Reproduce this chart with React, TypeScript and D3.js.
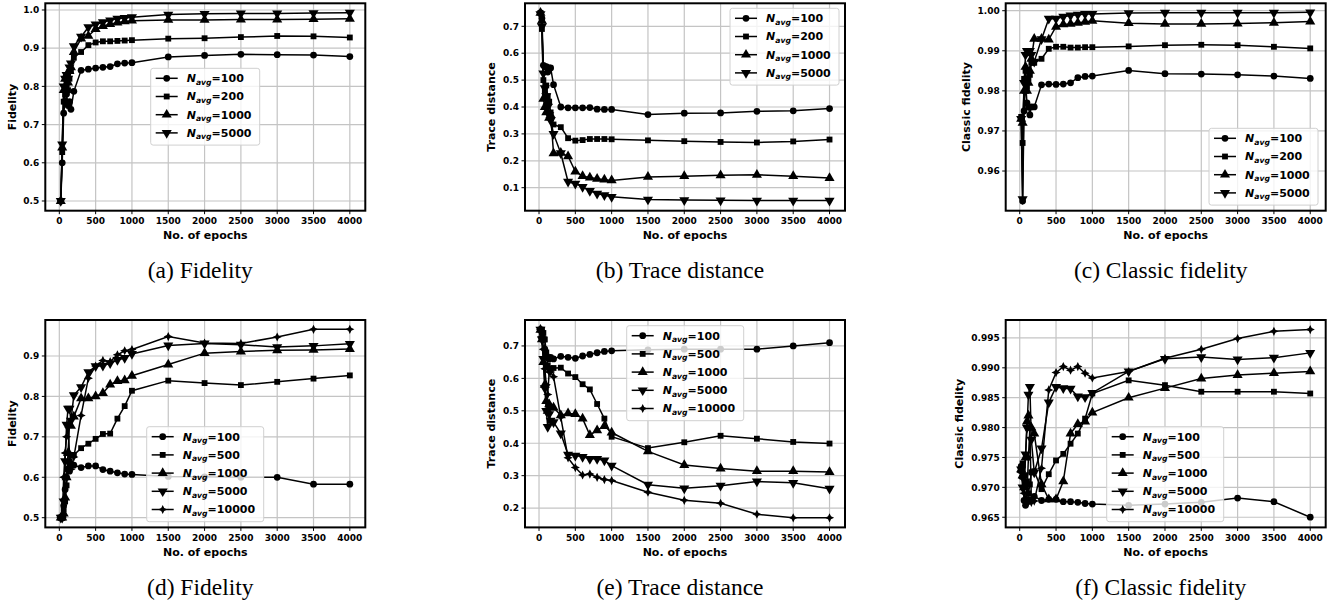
import React from "react";
import * as d3 from "d3";

// epochs where each run was evaluated
const epochs = [20, 40, 60, 80, 100, 120, 140, 160, 200, 300, 400, 500, 600, 700, 800, 900, 1000, 1500, 2000, 2500, 3000, 3500, 4000];

const topLabels = ["100", "200", "1000", "5000"];
const bottomLabels = ["100", "500", "1000", "5000", "10000"];

// (a) fidelity
const aFid100 = [0.50, 0.60, 0.73, 0.76, 0.78, 0.75, 0.76, 0.74, 0.787, 0.842, 0.845, 0.848, 0.850, 0.852, 0.859, 0.861, 0.862, 0.877, 0.881, 0.884, 0.883, 0.882, 0.878];
const aFid200 = [0.50, 0.628, 0.76, 0.78, 0.80, 0.79, 0.82, 0.84, 0.875, 0.890, 0.908, 0.915, 0.918, 0.918, 0.919, 0.920, 0.921, 0.925, 0.926, 0.929, 0.932, 0.931, 0.928];
const aFid1000 = [0.50, 0.64, 0.79, 0.82, 0.83, 0.81, 0.84, 0.85, 0.89, 0.925, 0.932, 0.950, 0.958, 0.963, 0.967, 0.970, 0.972, 0.974, 0.974, 0.975, 0.975, 0.976, 0.977];
const aFid5000 = [0.50, 0.648, 0.80, 0.82, 0.83, 0.82, 0.85, 0.86, 0.905, 0.930, 0.955, 0.962, 0.968, 0.973, 0.977, 0.979, 0.981, 0.988, 0.990, 0.991, 0.991, 0.992, 0.993];

// (b) trace distance
const bTd100 = [0.75, 0.73, 0.555, 0.55, 0.55, 0.53, 0.545, 0.545, 0.483, 0.400, 0.397, 0.397, 0.397, 0.398, 0.392, 0.391, 0.391, 0.372, 0.377, 0.378, 0.384, 0.386, 0.394];
const bTd200 = [0.75, 0.69, 0.50, 0.46, 0.48, 0.44, 0.42, 0.38, 0.335, 0.325, 0.284, 0.275, 0.277, 0.281, 0.281, 0.281, 0.280, 0.276, 0.273, 0.270, 0.268, 0.272, 0.279];
const bTd1000 = [0.75, 0.72, 0.43, 0.40, 0.38, 0.42, 0.36, 0.37, 0.228, 0.230, 0.217, 0.160, 0.143, 0.138, 0.133, 0.130, 0.127, 0.140, 0.143, 0.146, 0.148, 0.143, 0.136];
const bTd5000 = [0.745, 0.70, 0.525, 0.47, 0.44, 0.40, 0.37, 0.35, 0.300, 0.228, 0.122, 0.115, 0.103, 0.088, 0.078, 0.072, 0.066, 0.056, 0.054, 0.053, 0.052, 0.052, 0.052];

// (c) classic fidelity
const cCf100 = [0.973, 0.9525, 0.975, 0.982, 0.977, 0.976, 0.974, 0.976, 0.976, 0.9815, 0.9817, 0.9816, 0.9817, 0.982, 0.9833, 0.9836, 0.9837, 0.9851, 0.9843, 0.9842, 0.9840, 0.9837, 0.9831];
const cCf200 = [0.9735, 0.967, 0.983, 0.985, 0.981, 0.983, 0.984, 0.987, 0.987, 0.988, 0.9905, 0.991, 0.991, 0.9908, 0.9908, 0.9909, 0.9909, 0.9911, 0.9914, 0.9915, 0.9914, 0.991, 0.9906];
const cCf1000 = [0.973, 0.972, 0.980, 0.986, 0.980, 0.982, 0.985, 0.988, 0.993, 0.993, 0.9928, 0.996, 0.9966, 0.9967, 0.997, 0.9972, 0.9975, 0.9969, 0.9967, 0.9967, 0.9968, 0.997, 0.9973];
const cCf5000 = [0.973, 0.953, 0.982, 0.989, 0.990, 0.990, 0.990, 0.989, 0.9873, 0.9929, 0.998, 0.998, 0.9985, 0.9988, 0.999, 0.9992, 0.9992, 0.9994, 0.9995, 0.9995, 0.9995, 0.9995, 0.9996];

// (d) fidelity
const dFid100 = [0.50, 0.50, 0.53, 0.57, 0.60, 0.62, 0.615, 0.633, 0.630, 0.624, 0.628, 0.628, 0.619, 0.615, 0.611, 0.608, 0.607, 0.602, 0.601, 0.600, 0.600, 0.583, 0.583];
const dFid500 = [0.50, 0.50, 0.52, 0.54, 0.58, 0.62, 0.64, 0.655, 0.655, 0.672, 0.683, 0.695, 0.707, 0.708, 0.745, 0.776, 0.814, 0.839, 0.833, 0.828, 0.836, 0.844, 0.852];
const dFid1000 = [0.50, 0.50, 0.51, 0.55, 0.60, 0.66, 0.73, 0.727, 0.750, 0.795, 0.795, 0.800, 0.808, 0.829, 0.838, 0.840, 0.851, 0.879, 0.907, 0.911, 0.914, 0.915, 0.917];
const dFid5000 = [0.50, 0.50, 0.54, 0.64, 0.73, 0.77, 0.77, 0.74, 0.803, 0.823, 0.860, 0.875, 0.876, 0.882, 0.890, 0.895, 0.905, 0.926, 0.931, 0.928, 0.922, 0.925, 0.930];
const dFid10000 = [0.50, 0.50, 0.60, 0.66, 0.70, 0.73, 0.66, 0.62, 0.650, 0.753, 0.845, 0.875, 0.889, 0.886, 0.903, 0.913, 0.916, 0.948, 0.932, 0.931, 0.947, 0.966, 0.966];

// (e) trace distance
const eTd100 = [0.75, 0.74, 0.72, 0.69, 0.67, 0.665, 0.66, 0.665, 0.660, 0.668, 0.665, 0.662, 0.669, 0.674, 0.679, 0.683, 0.685, 0.688, 0.690, 0.690, 0.690, 0.700, 0.710];
const eTd500 = [0.75, 0.75, 0.74, 0.72, 0.68, 0.64, 0.63, 0.63, 0.632, 0.633, 0.615, 0.604, 0.582, 0.566, 0.521, 0.476, 0.420, 0.385, 0.403, 0.423, 0.414, 0.404, 0.399];
const eTd1000 = [0.75, 0.72, 0.65, 0.58, 0.53, 0.50, 0.52, 0.51, 0.510, 0.486, 0.492, 0.490, 0.476, 0.425, 0.440, 0.453, 0.433, 0.375, 0.333, 0.322, 0.314, 0.314, 0.311];
const eTd5000 = [0.75, 0.72, 0.66, 0.57, 0.50, 0.45, 0.49, 0.47, 0.465, 0.430, 0.365, 0.362, 0.358, 0.352, 0.352, 0.347, 0.331, 0.272, 0.261, 0.269, 0.282, 0.278, 0.260];
const eTd10000 = [0.75, 0.73, 0.69, 0.63, 0.58, 0.55, 0.62, 0.62, 0.605, 0.480, 0.355, 0.325, 0.302, 0.305, 0.295, 0.288, 0.285, 0.249, 0.224, 0.215, 0.181, 0.170, 0.170];

// (f) classic fidelity
const fCf100 = [0.9735, 0.9718, 0.9678, 0.967, 0.9675, 0.968, 0.9677, 0.9678, 0.9685, 0.9678, 0.968, 0.968, 0.9676, 0.9676, 0.9675, 0.9673, 0.9672, 0.967, 0.9672, 0.9675, 0.9682, 0.9676, 0.965];
const fCf500 = [0.9733, 0.974, 0.972, 0.970, 0.971, 0.969, 0.9705, 0.9725, 0.9727, 0.9697, 0.9722, 0.9745, 0.9756, 0.9773, 0.979, 0.9815, 0.9857, 0.9879, 0.9871, 0.986, 0.986, 0.986, 0.9857];
const fCf1000 = [0.973, 0.972, 0.970, 0.975, 0.981, 0.982, 0.980, 0.980, 0.979, 0.9705, 0.968, 0.968, 0.971, 0.979, 0.9806, 0.981, 0.9825, 0.985, 0.9866, 0.9882, 0.9888, 0.9891, 0.9894];
const fCf5000 = [0.973, 0.970, 0.972, 0.9755, 0.980, 0.9855, 0.9868, 0.978, 0.9725, 0.9765, 0.9842, 0.9868, 0.9866, 0.9865, 0.9852, 0.9851, 0.9858, 0.9894, 0.9915, 0.9918, 0.9914, 0.9917, 0.9925];
const fCf10000 = [0.9725, 0.9715, 0.969, 0.968, 0.969, 0.975, 0.980, 0.9675, 0.9677, 0.9732, 0.9863, 0.9892, 0.9902, 0.9896, 0.9902, 0.9891, 0.9883, 0.9894, 0.9916, 0.9931, 0.9949, 0.9961, 0.9964];

const xTicks = [0, 500, 1000, 1500, 2000, 2500, 3000, 3500, 4000];

const W = 1343;
const H = 604;
const pw = 320;
const ph = 207.4;
const font = "DejaVu Sans, sans-serif";

// four-pointed filled star for the last series
const star = "M0,-4.6L1.5,-1.5L4.6,0L1.5,1.5L0,4.6L-1.5,1.5L-4.6,0L-1.5,-1.5Z";
const markers = [
  d3.symbol(d3.symbolCircle, 36)() as string,
  d3.symbol(d3.symbolSquare, 34)() as string,
  d3.symbol(d3.symbolTriangle, 44)() as string,
  d3.symbol(d3.symbolTriangle, 44)() as string,
  star,
];
const markerRot = [0, 0, 0, 180, 0];

const panels = [
  { left: 45.3, top: 3.3, yDomain: [0.4746, 1.0175], yTicks: d3.range(0.5, 1.01, 0.1), fmt: ".1f", ylabel: "Fidelity", ylx: 12.3,
    series: [aFid100, aFid200, aFid1000, aFid5000], labels: topLabels, leg: [150.7, 68.3], legW: 109, caption: "(a) Fidelity" },
  { left: 525, top: 3.3, yDomain: [0.0145, 0.7855], yTicks: d3.range(0.1, 0.71, 0.1), fmt: ".1f", ylabel: "Trace distance", ylx: 491.7,
    series: [bTd100, bTd200, bTd1000, bTd5000], labels: topLabels, leg: [730, 8.3], legW: 109, caption: "(b) Trace distance" },
  { left: 1005.7, top: 3.3, yDomain: [0.9501, 1.00185], yTicks: d3.range(0.96, 1.0001, 0.01), fmt: ".2f", ylabel: "Classic fidelity", ylx: 966,
    series: [cCf100, cCf200, cCf1000, cCf5000], labels: topLabels, leg: [1209, 128.3], legW: 109, caption: "(c) Classic fidelity" },
  { left: 45.3, top: 320, yDomain: [0.476, 0.989], yTicks: d3.range(0.5, 0.91, 0.1), fmt: ".1f", ylabel: "Fidelity", ylx: 12.3,
    series: [dFid100, dFid500, dFid1000, dFid5000, dFid10000], labels: bottomLabels, leg: [146.7, 426.7], legW: 117, caption: "(d) Fidelity" },
  { left: 525, top: 320, yDomain: [0.1405, 0.78], yTicks: d3.range(0.2, 0.71, 0.1), fmt: ".1f", ylabel: "Trace distance", ylx: 491.7,
    series: [eTd100, eTd500, eTd1000, eTd5000, eTd10000], labels: bottomLabels, leg: [626.7, 325.7], legW: 117, caption: "(e) Trace distance" },
  { left: 1005.7, top: 320, yDomain: [0.9633, 0.998], yTicks: d3.range(0.965, 0.9951, 0.005), fmt: ".3f", ylabel: "Classic fidelity", ylx: 959,
    series: [fCf100, fCf500, fCf1000, fCf5000, fCf10000], labels: bottomLabels, leg: [1106.7, 426.7], legW: 117, caption: "(f) Classic fidelity" },
];

function Panel({ p }: { p: any }) {
  const x = d3.scaleLinear().domain([-193, 4213]).range([p.left, p.left + pw]);
  const y = d3.scaleLinear().domain(p.yDomain).range([p.top + ph, p.top]);
  const line = d3.line<number>().x((_, i) => x(epochs[i])).y((d) => y(d));
  const f = d3.format(p.fmt);
  const bottom = p.top + ph;
  const legH = p.labels.length * 18.2 + 4;
  return (
    <g>
      {/* grid */}
      {xTicks.map((t) => (
        <line key={"gx" + t} x1={x(t)} x2={x(t)} y1={p.top} y2={bottom} stroke="#c4c4c4" strokeWidth={1.2} />
      ))}
      {p.yTicks.map((t: number) => (
        <line key={"gy" + t} x1={p.left} x2={p.left + pw} y1={y(t)} y2={y(t)} stroke="#c4c4c4" strokeWidth={1.2} />
      ))}
      {/* series */}
      {p.series.map((s: number[], k: number) => (
        <g key={"s" + k}>
          <path d={line(s) as string} fill="none" stroke="#000" strokeWidth={1.5} />
          {s.map((v, i) => (
            <path key={i} d={markers[k]} transform={`translate(${x(epochs[i])},${y(v)}) rotate(${markerRot[k]})`} fill="#000" />
          ))}
        </g>
      ))}
      {/* frame */}
      <rect x={p.left} y={p.top} width={pw} height={ph} fill="none" stroke="#000" strokeWidth={2} />
      {/* ticks */}
      {xTicks.map((t) => (
        <g key={"tx" + t}>
          <line x1={x(t)} x2={x(t)} y1={bottom} y2={bottom + 3.5} stroke="#000" strokeWidth={1} />
          <text x={x(t)} y={bottom + 13.3} textAnchor="middle" fontFamily={font} fontWeight="bold" fontSize={9}>{t}</text>
        </g>
      ))}
      {p.yTicks.map((t: number) => (
        <g key={"ty" + t}>
          <line x1={p.left - 3.5} x2={p.left} y1={y(t)} y2={y(t)} stroke="#000" strokeWidth={1} />
          <text x={p.left - 6} y={y(t) + 3.3} textAnchor="end" fontFamily={font} fontWeight="bold" fontSize={9}>{f(t)}</text>
        </g>
      ))}
      <text x={p.left + pw / 2} y={bottom + 28.5} textAnchor="middle" fontFamily={font} fontWeight="bold" fontSize={11}>No. of epochs</text>
      <text transform={`translate(${p.ylx},${p.top + ph / 2}) rotate(-90)`} textAnchor="middle" dominantBaseline="central" fontFamily={font} fontWeight="bold" fontSize={11}>{p.ylabel}</text>
      {/* legend */}
      <g transform={`translate(${p.leg[0]},${p.leg[1]})`}>
        <rect x={0} y={0} width={p.legW} height={legH} rx={2.5} fill="#fff" fillOpacity={0.8} stroke="#d0d0d0" strokeWidth={1} />
        {p.labels.map((lab: string, k: number) => {
          const ry = 10 + k * 18.2;
          return (
            <g key={"l" + k}>
              <line x1={5} x2={27} y1={ry} y2={ry} stroke="#000" strokeWidth={1.5} />
              <path d={markers[k]} transform={`translate(16,${ry}) rotate(${markerRot[k]})`} fill="#000" />
              <text x={36} y={ry + 4} fontFamily={font} fontWeight="bold" fontSize={11}>
                <tspan fontStyle="italic">N</tspan>
                <tspan fontStyle="italic" fontSize={7.7} dy={2.5}>avg</tspan>
                <tspan dy={-2.5}>={lab}</tspan>
              </text>
            </g>
          );
        })}
      </g>
      <text x={p.left + pw / 2 - 5} y={bottom + 67.5} textAnchor="middle" fontFamily="Liberation Serif, Times New Roman, serif" fontSize={23.5}>{p.caption}</text>
    </g>
  );
}

export default function App() {
  return (
    <svg width={W} height={H} style={{ position: "absolute", left: 0, top: 0, background: "#fff" }}>
      <rect width={W} height={H} fill="#fff" />
      {panels.map((p, i) => (
        <Panel key={i} p={p} />
      ))}
    </svg>
  );
}
